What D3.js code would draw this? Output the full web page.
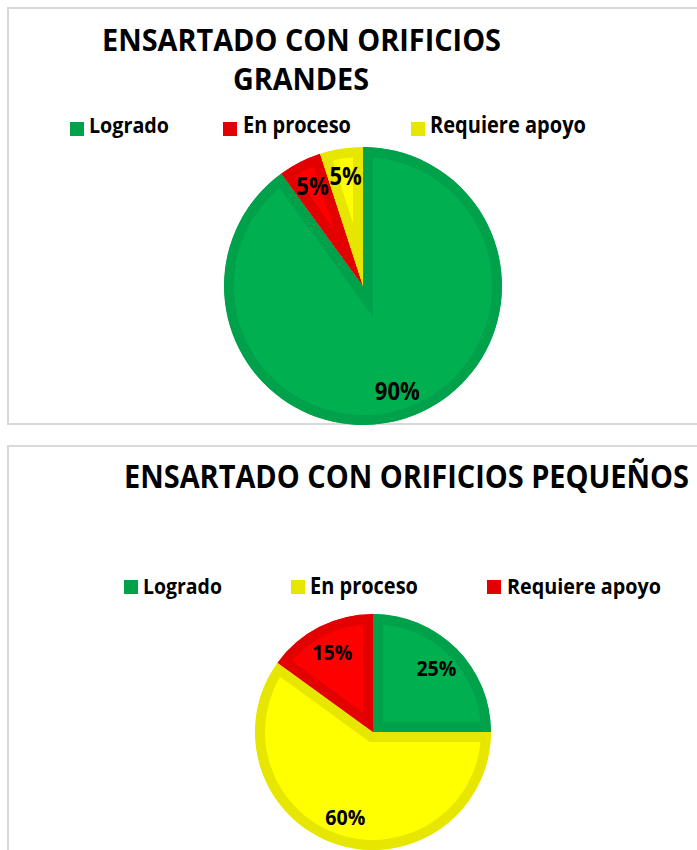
<!DOCTYPE html>
<html><head><meta charset="utf-8">
<script src="https://cdn.jsdelivr.net/npm/d3@7"></script>
<style>
body{margin:0;background:#fff}
svg{display:block}
text{font-family:"Open Sans",sans-serif;font-weight:700;fill:#000}
</style>
</head><body>
<svg id="c" width="697" height="850"></svg>
<script>
// ---- data ----
const categories = ["Logrado", "En proceso", "Requiere apoyo"];
const valuesGrandes = [90, 5, 5];
const valuesPequenos = [25, 60, 15];
const titleGrandes = ["ENSARTADO CON ORIFICIOS", "GRANDES"];
const titlePequenos = ["ENSARTADO CON ORIFICIOS PEQUEÑOS"];

// ---- styles ----
const palette = {
  green:  {fill: "#00b050", stroke: "#00a14b"},
  red:    {fill: "#ff0000", stroke: "#e30000"},
  yellow: {fill: "#ffff00", stroke: "#e6e600"}
};
const colorKeysGrandes = ["green", "red", "yellow"];
const colorKeysPequenos = ["green", "yellow", "red"];

const charts = [
  {
    id: "g", values: valuesGrandes, title: titleGrandes, colors: colorKeysGrandes,
    box: {x: 8, y: 8, w: 700, h: 416},
    cx: 363, cy: 286, r: 139, labelRatio: 0.8, labelSize: 45,
    titleLines: [{cx: 301.5, y: 51, w: 399}, {cx: 301, y: 90, w: 136}],
    legendY: 122, legendBase: 133,
    legendSq: [70, 223, 411], legendTx: [89, 243, 430], legendW: [80, 108, 156]
  },
  {
    id: "p", values: valuesPequenos, title: titlePequenos, colors: colorKeysPequenos,
    box: {x: 8, y: 446, w: 700, h: 420},
    cx: 373, cy: 732, r: 118, labelRatio: 0.76, labelSize: 40,
    titleLines: [{cx: 406.5, y: 488, w: 565}],
    legendY: 580, legendBase: 594,
    legendSq: [124, 291, 487], legendTx: [143, 310, 507], legendW: [79, 108, 154]
  }
];

const svg = d3.select("#c");
const defs = svg.append("defs");

function fitWidth(node, target) {
  const len = node.getComputedTextLength();
  const fs = parseFloat(d3.select(node).style("font-size"));
  d3.select(node).style("font-size", (fs * target / len) + "px");
  return fs * target / len;
}
// place text at (x,y) with a vertical stretch to mimic a condensed face
function addText(parent, x, y, str, size, stretch, anchor) {
  const g = parent.append("g").attr("transform", `translate(${x},${y}) scale(1,${stretch})`);
  return g.append("text").attr("text-anchor", anchor || "start").style("font-size", size + "px").text(str);
}

charts.forEach(ch => {
  const g = svg.append("g");
  g.append("rect")
    .attr("x", ch.box.x).attr("y", ch.box.y)
    .attr("width", ch.box.w).attr("height", ch.box.h)
    .attr("fill", "#fff").attr("stroke", "#d9d9d9").attr("stroke-width", 2);

  ch.title.forEach((line, i) => {
    const tl = ch.titleLines[i];
    const t = addText(g, tl.cx, tl.y, line, 26, 1.08, "middle");
    fitWidth(t.node(), tl.w);
  });

  categories.forEach((c, i) => {
    g.append("rect")
      .attr("x", ch.legendSq[i]).attr("y", ch.legendY)
      .attr("width", 14).attr("height", 14)
      .attr("fill", palette[ch.colors[i]].stroke);
    const t = addText(g, ch.legendTx[i], ch.legendBase, c, 18, 1.12);
    fitWidth(t.node(), ch.legendW[i]);
  });

  const pie = d3.pie().sort(null).value(d => d).startAngle(0).endAngle(2 * Math.PI);
  const arcs = pie(ch.values);
  const arc = d3.arc().innerRadius(0).outerRadius(ch.r);
  const labelArc = d3.arc().innerRadius(ch.r * ch.labelRatio).outerRadius(ch.r * ch.labelRatio);

  arcs.forEach((a, i) => {
    const cid = `clip-${ch.id}-${i}`;
    defs.append("clipPath").attr("id", cid)
      .append("path").attr("d", arc(a))
      .attr("transform", `translate(${ch.cx},${ch.cy})`);
    const col = palette[ch.colors[i]];
    g.append("g").attr("clip-path", `url(#${cid})`)
      .append("path")
      .attr("transform", `translate(${ch.cx},${ch.cy})`)
      .attr("d", arc(a))
      .attr("fill", col.fill)
      .attr("stroke", col.stroke)
      .attr("stroke-width", 20)
      .attr("stroke-linejoin", "miter")
      .attr("stroke-miterlimit", 4);
  });

  const lg = g.append("g").attr("transform", `translate(${ch.cx},${ch.cy})`);
  // size from the widest (two-digit) label, shared by all labels of the chart
  const probe = lg.append("text").style("font-size", "22px").text("90%");
  const labelFs = fitWidth(probe.node(), ch.labelSize);
  probe.remove();
  arcs.forEach((a, i) => {
    const [lx, ly] = labelArc.centroid(a);
    addText(lg, lx, ly + labelFs * 0.38, ch.values[i] + "%", labelFs, 1.1, "middle");
  });
});
</script>
</body></html>
